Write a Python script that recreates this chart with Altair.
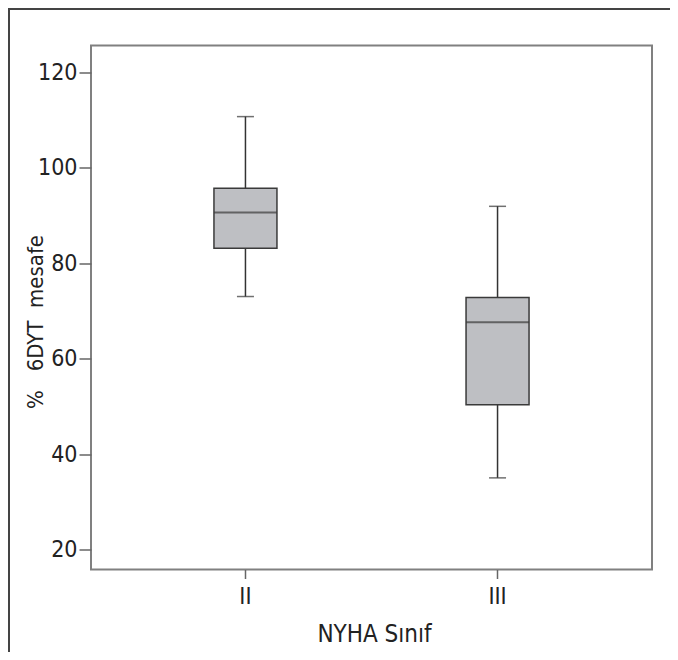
import altair as alt
import pandas as pd

categories = ["II", "III"]
lower = [73.0, 35.0]
q1 = [83.1, 50.3]
median = [90.6, 67.6]
q3 = [95.7, 72.8]
upper = [110.7, 91.9]

df = pd.DataFrame({"cat": categories, "lo": lower, "q1": q1, "med": median, "q3": q3, "hi": upper})

FONT = "Liberation Sans Narrow, Arial Narrow, DejaVu Sans Condensed, sans-serif"

xscale = alt.Scale(domain=categories, paddingInner=0, paddingOuter=0.1127)
yscale = alt.Scale(domain=[15.8, 125.6], nice=False, zero=False)

x_enc = alt.X("cat:N", scale=xscale, sort=categories,
              axis=alt.Axis(title="NYHA Sınıf", labelAngle=0, domain=False,
                            tickSize=9, tickColor="#666", tickWidth=1.5,
                            labelPadding=7, labelFontSize=23, labelColor="#222",
                            labelFont=FONT, titleFont=FONT,
                            titleFontSize=24, titleColor="#222", titleFontWeight="normal",
                            titleX=283, titleY=72, titleBaseline="alphabetic",
                            titleAlign="center"))
y_axis = alt.Axis(title="%\u00a0\u00a0\u00a06DYT\u00a0\u00a0mesafe",
                  values=[20, 40, 60, 80, 100, 120], grid=False, domain=False,
                  tickSize=12, tickColor="#666", tickWidth=1.5, labelPadding=2,
                  labelFont=FONT, titleFont=FONT,
                  labelFontSize=23, labelColor="#222", titleFontSize=22, titleColor="#222",
                  titleFontWeight="normal", titleAngle=270, titleX=-49, titleY=276,
                  titleBaseline="alphabetic", titleAlign="center")

base = alt.Chart(df)

whisker = base.mark_rule(color="#333", strokeWidth=1.5).encode(
    x=x_enc, y=alt.Y("lo:Q", scale=yscale, axis=y_axis), y2="hi:Q")
box = base.mark_bar(size=63, fill="#bebfc3", stroke="#3a3a3a", strokeWidth=1.5).encode(
    x=alt.X("cat:N", scale=xscale, sort=categories), y=alt.Y("q1:Q", scale=yscale), y2="q3:Q")
med = base.mark_tick(size=63, thickness=2, color="#3a3a3a").encode(
    x=alt.X("cat:N", scale=xscale, sort=categories), y=alt.Y("med:Q", scale=yscale))
cap_lo = base.mark_tick(size=17, thickness=1.5, color="#333").encode(
    x=alt.X("cat:N", scale=xscale, sort=categories), y=alt.Y("lo:Q", scale=yscale))
cap_hi = base.mark_tick(size=17, thickness=1.5, color="#333").encode(
    x=alt.X("cat:N", scale=xscale, sort=categories), y=alt.Y("hi:Q", scale=yscale))

one = alt.Chart(pd.DataFrame({"a": [0]}))
frame_left = one.mark_rect(fill="#444", strokeWidth=0).encode(
    x=alt.value(-83), x2=alt.value(-81), y=alt.value(-37.5), y2=alt.value(700))
frame_top = one.mark_rect(fill="#444", strokeWidth=0).encode(
    x=alt.value(-83), x2=alt.value(600), y=alt.value(-37.5), y2=alt.value(-35.5))

chart = alt.layer(whisker, box, med, cap_lo, cap_hi, frame_left, frame_top).properties(
    width=561, height=524,
    background="white",
    autosize=alt.AutoSizeParams(type="none"),
    padding={"left": 83, "top": 37.5, "right": 18, "bottom": 82},
).configure_view(stroke="#808080", strokeWidth=2)

chart.save("out.html", embed_options={"renderer": "svg", "actions": False})
